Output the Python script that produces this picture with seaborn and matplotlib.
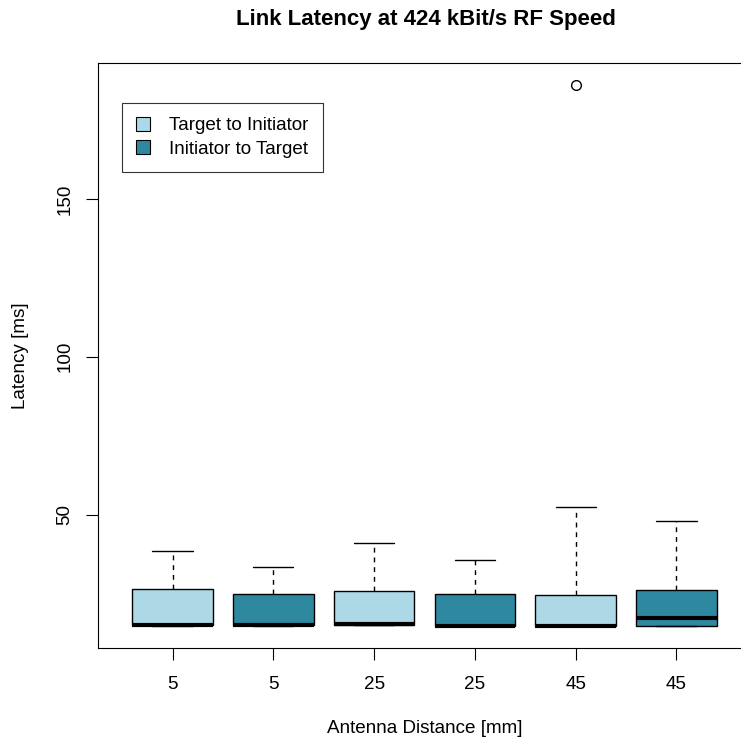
import seaborn as sns
import matplotlib.pyplot as plt
from matplotlib.patches import Patch

# box statistics (ms)
distance = ["5", "5", "25", "25", "45", "45"]
direction = ["Target to Initiator", "Initiator to Target",
             "Target to Initiator", "Initiator to Target",
             "Target to Initiator", "Initiator to Target"]
whislo = [14.8, 14.8, 14.9, 14.6, 14.6, 14.6]
q1 = [14.9, 14.9, 15.0, 14.7, 14.7, 14.8]
med = [15.0, 15.0, 15.2, 14.8, 14.8, 17.1]
q3 = [26.3, 24.8, 25.7, 24.8, 24.5, 26.0]
whishi = [38.4, 33.3, 40.9, 35.5, 52.4, 47.8]
outliers = [[], [], [], [], [186.0], []]

colors = {"Target to Initiator": "#ADD8E6", "Initiator to Target": "#2E89A0"}

sns.set_theme(style="ticks")
plt.rcParams["font.family"] = ["Liberation Sans", "DejaVu Sans"]
plt.rcParams["text.color"] = "black"
plt.rcParams["axes.labelcolor"] = "black"
plt.rcParams["xtick.color"] = "black"
plt.rcParams["ytick.color"] = "black"

fs = 13.6

fig = plt.figure(figsize=(7.41, 7.42), dpi=100)
ax = fig.add_axes([98 / 741, 94 / 742, 653 / 741, 585 / 742])

stats = []
for i in range(len(distance)):
    stats.append(dict(whislo=whislo[i], q1=q1[i], med=med[i], q3=q3[i],
                      whishi=whishi[i], fliers=outliers[i]))

bp = ax.bxp(stats, positions=range(1, 7), widths=0.8, patch_artist=True,
            showfliers=True,
            boxprops=dict(edgecolor="black", linewidth=1.0),
            medianprops=dict(color="black", linewidth=3.0, solid_capstyle="butt"),
            whiskerprops=dict(color="black", linewidth=1.0, linestyle=(0, (3.5, 3.5))),
            capprops=dict(color="black", linewidth=1.0),
            capwidths=0.4,
            flierprops=dict(marker="o", markerfacecolor="none",
                            markeredgecolor="black", markersize=7, markeredgewidth=1.0))
for patch, d in zip(bp["boxes"], direction):
    patch.set_facecolor(colors[d])

ax.set_xlim(0.26, 6.74)
ax.set_ylim(7.7, 193.1)
ax.set_xticks(range(1, 7))
ax.set_xticklabels(distance)
ax.set_yticks([50, 100, 150])
ax.set_yticklabels(["50", "100", "150"], rotation=90, va="center")
ax.tick_params(axis="both", length=8.5, width=0.8, labelsize=fs, direction="out")
ax.tick_params(axis="x", pad=12)
ax.tick_params(axis="y", pad=9)
for s in ax.spines.values():
    s.set_color("black")
    s.set_linewidth(0.8)

ax.set_xlabel("Antenna Distance [mm]", fontsize=fs, labelpad=19)
ax.set_ylabel("Latency [ms]", fontsize=fs, labelpad=20)
fig.suptitle("Link Latency at 424 kBit/s RF Speed", fontsize=16,
             fontweight="bold", x=0.575, y=0.988)

handles = [Patch(facecolor=colors[k], edgecolor="black", linewidth=0.8, label=k)
           for k in ["Target to Initiator", "Initiator to Target"]]
leg = ax.legend(handles=handles, loc="upper left", bbox_to_anchor=(0.037, 0.932),
                fontsize=fs, frameon=True, fancybox=False, handlelength=0.75,
                handleheight=0.75, handletextpad=1.0, borderpad=0.75,
                labelspacing=0.3, borderaxespad=0)
leg.get_frame().set_edgecolor("black")
leg.get_frame().set_linewidth(0.8)

fig.savefig("out.png", dpi=100)
